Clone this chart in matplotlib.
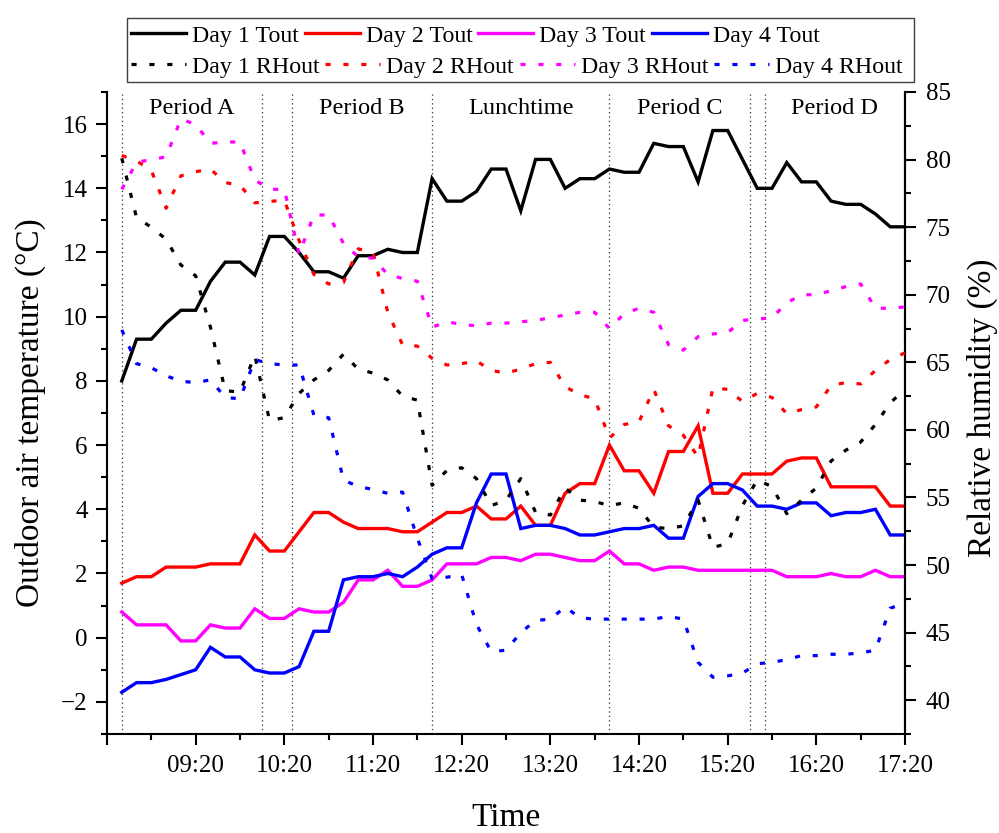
import matplotlib
matplotlib.use("Agg")
import matplotlib.pyplot as plt
from matplotlib.ticker import FixedLocator, FuncFormatter, MultipleLocator
from matplotlib.patches import Rectangle
from matplotlib.lines import Line2D

plt.rcParams['font.family'] = ['Liberation Serif', 'DejaVu Serif']

# logging times, every 10 min
times = ["08:30", "08:40", "08:50", "09:00", "09:10", "09:20", "09:30", "09:40", "09:50",
         "10:00", "10:10", "10:20", "10:30", "10:40", "10:50", "11:00", "11:10", "11:20",
         "11:30", "11:40", "11:50", "12:00", "12:10", "12:20", "12:30", "12:40", "12:50",
         "13:00", "13:10", "13:20", "13:30", "13:40", "13:50", "14:00", "14:10", "14:20",
         "14:30", "14:40", "14:50", "15:00", "15:10", "15:20", "15:30", "15:40", "15:50",
         "16:00", "16:10", "16:20", "16:30", "16:40", "16:50", "17:00", "17:10", "17:20"]

# outdoor temperature (degC)
t_day1 = [8.0, 9.3, 9.3, 9.8, 10.2, 10.2, 11.1, 11.7, 11.7, 11.3,
          12.5, 12.5, 12.0, 11.4, 11.4, 11.2, 11.9, 11.9, 12.1, 12.0,
          12.0, 14.3, 13.6, 13.6, 13.9, 14.6, 14.6, 13.3, 14.9, 14.9,
          14.0, 14.3, 14.3, 14.6, 14.5, 14.5, 15.4, 15.3, 15.3, 14.2,
          15.8, 15.8, 14.9, 14.0, 14.0, 14.8, 14.2, 14.2, 13.6, 13.5,
          13.5, 13.2, 12.8, 12.8]
t_day2 = [1.7, 1.9, 1.9, 2.2, 2.2, 2.2, 2.3, 2.3, 2.3, 3.2,
          2.7, 2.7, 3.3, 3.9, 3.9, 3.6, 3.4, 3.4, 3.4, 3.3,
          3.3, 3.6, 3.9, 3.9, 4.1, 3.7, 3.7, 4.1, 3.5, 3.5,
          4.5, 4.8, 4.8, 6.0, 5.2, 5.2, 4.5, 5.8, 5.8, 6.6,
          4.5, 4.5, 5.1, 5.1, 5.1, 5.5, 5.6, 5.6, 4.7, 4.7,
          4.7, 4.7, 4.1, 4.1]
t_day3 = [0.8, 0.4, 0.4, 0.4, -0.1, -0.1, 0.4, 0.3, 0.3, 0.9,
          0.6, 0.6, 0.9, 0.8, 0.8, 1.1, 1.8, 1.8, 2.1, 1.6,
          1.6, 1.8, 2.3, 2.3, 2.3, 2.5, 2.5, 2.4, 2.6, 2.6,
          2.5, 2.4, 2.4, 2.7, 2.3, 2.3, 2.1, 2.2, 2.2, 2.1,
          2.1, 2.1, 2.1, 2.1, 2.1, 1.9, 1.9, 1.9, 2.0, 1.9,
          1.9, 2.1, 1.9, 1.9]
t_day4 = [-1.7, -1.4, -1.4, -1.3, -1.15, -1.0, -0.3, -0.6, -0.6, -1.0,
          -1.1, -1.1, -0.9, 0.2, 0.2, 1.8, 1.9, 1.9, 2.0, 1.9,
          2.2, 2.6, 2.8, 2.8, 4.2, 5.1, 5.1, 3.4, 3.5, 3.5,
          3.4, 3.2, 3.2, 3.3, 3.4, 3.4, 3.5, 3.1, 3.1, 4.4,
          4.8, 4.8, 4.6, 4.1, 4.1, 4.0, 4.2, 4.2, 3.8, 3.9,
          3.9, 4.0, 3.2, 3.2]

# outdoor relative humidity (%)
rh_day1 = [80.1, 75.7, 75.0, 74.1, 72.2, 71.4, 67.6, 62.9, 62.8, 65.5,
           60.7, 60.9, 62.7, 63.7, 64.4, 65.6, 64.5, 64.2, 63.7, 62.5,
           62.2, 55.9, 57.0, 57.2, 56.4, 54.4, 54.8, 56.4, 53.9, 53.7,
           55.7, 54.8, 54.7, 54.4, 54.6, 54.2, 52.8, 52.7, 52.9, 54.8,
           51.3, 51.6, 54.4, 56.3, 55.8, 53.8, 54.8, 55.7, 57.7, 58.5,
           59.1, 60.4, 62.0, 63.0]
rh_day2 = [80.3, 79.9, 79.2, 76.4, 78.8, 79.1, 79.3, 78.3, 78.1, 76.8,
           76.9, 77.0, 74.0, 71.5, 70.8, 70.9, 73.4, 73.1, 68.7, 66.3,
           66.2, 65.3, 64.8, 64.9, 65.1, 64.4, 64.2, 64.5, 64.9, 65.0,
           63.2, 62.6, 62.3, 59.4, 60.4, 60.6, 63.0, 60.3, 59.6, 58.0,
           63.1, 63.0, 62.1, 62.7, 62.4, 61.2, 61.5, 61.7, 63.3, 63.5,
           63.4, 64.4, 65.2, 65.7]
rh_day3 = [77.8, 79.8, 80.0, 80.2, 83.0, 82.6, 81.2, 81.3, 81.3, 78.5,
           77.8, 77.8, 73.0, 75.9, 75.9, 73.8, 72.8, 72.7, 71.5, 71.2,
           71.0, 67.6, 68.0, 67.8, 67.7, 67.9, 67.9, 68.0, 68.1, 68.3,
           68.5, 68.7, 68.7, 67.5, 68.6, 69.0, 68.7, 66.3, 65.9, 66.9,
           67.1, 67.2, 68.1, 68.2, 68.3, 69.4, 70.0, 70.0, 70.3, 70.6,
           70.8, 69.0, 69.0, 69.1]
rh_day4 = [67.4, 64.9, 64.6, 64.0, 63.6, 63.5, 63.7, 62.4, 62.3, 65.2,
           64.9, 64.8, 64.8, 61.1, 60.9, 56.3, 55.8, 55.6, 55.3, 55.4,
           52.0, 49.0, 49.1, 49.3, 45.6, 43.6, 43.7, 45.0, 45.9, 46.0,
           46.9, 46.1, 46.0, 46.0, 46.0, 46.0, 46.0, 46.2, 46.0, 42.8,
           41.7, 41.8, 42.0, 42.7, 42.8, 43.0, 43.3, 43.3, 43.4, 43.4,
           43.5, 43.7, 46.8, 47.2]

period_edges = ["08:30", "10:05", "10:25", "12:00", "14:00", "15:35", "15:45"]
periods = [("Period A", "08:30", "10:05"), ("Period B", "10:25", "12:00"),
           ("Lunchtime", "12:00", "14:00"), ("Period C", "14:00", "15:35"),
           ("Period D", "15:45", "17:20")]

colors = ["#000000", "#ff0000", "#ff00ff", "#0000ff"]
days = ["Day 1", "Day 2", "Day 3", "Day 4"]


def to_min(s):
    h, m = s.split(":")
    return int(h) * 60 + int(m)


x = [to_min(t) for t in times]
dotted = (0, (1.6, 4.0))

fig = plt.figure(figsize=(9.99, 8.33), dpi=100)
ax = fig.add_axes([107 / 999, 1 - 734 / 833, 798 / 999, 642 / 833])
ax2 = ax.twinx()

for xe in period_edges:
    ax.axvline(to_min(xe), color="#333333", lw=0.9, ls=(0, (1, 2.5)), zorder=1)

for name, a, b in periods:
    ax.text((to_min(a) + to_min(b)) / 2, 0.975, name, transform=ax.get_xaxis_transform(),
            ha="center", va="center", fontsize=17.5)

for y, c in zip([t_day1, t_day2, t_day3, t_day4], colors):
    ax.plot(x, y, color=c, lw=2.4, solid_joinstyle="miter", zorder=3)
for y, c in zip([rh_day1, rh_day2, rh_day3, rh_day4], colors):
    ax2.plot(x, y, color=c, lw=2.3, ls=dotted, zorder=3)

ax.set_xlim(500, 1040)
ax.set_ylim(-3, 17)
ax2.set_ylim(37.5, 85)

ax.xaxis.set_major_locator(FixedLocator(list(range(500, 1041, 60))))
ax.xaxis.set_minor_locator(FixedLocator(list(range(530, 1040, 60))))
ax.xaxis.set_major_formatter(FuncFormatter(
    lambda v, p: "" if v <= 500 else "%02d:%02d" % (int(v) // 60, int(v) % 60)))
ax.yaxis.set_major_locator(MultipleLocator(2))
ax.yaxis.set_minor_locator(MultipleLocator(1))
ax2.yaxis.set_major_locator(MultipleLocator(5))
ax2.yaxis.set_minor_locator(MultipleLocator(2.5))

for a in (ax, ax2):
    a.spines["top"].set_visible(False)
    for s in a.spines.values():
        s.set_linewidth(1.5)
ax2.spines["left"].set_visible(False)
ax2.spines["bottom"].set_visible(False)

ax.tick_params(axis="both", which="major", direction="out", length=8, width=1.5,
               labelsize=18, pad=6)
ax.tick_params(axis="both", which="minor", direction="out", length=4.5, width=1.5)
ax.tick_params(axis="x", which="major", pad=7)
ax2.tick_params(axis="y", which="major", direction="out", length=8, width=1.5,
                labelsize=18, pad=7)
ax2.tick_params(axis="y", which="minor", direction="out", length=4.5, width=1.5)

fig.text(30 / 999, 1 - 413 / 833, "Outdoor air temperature (°C)", rotation=90,
         ha="center", va="center", fontsize=24)
fig.text(982 / 999, 1 - 408 / 833, "Relative humidity (%)", rotation=90,
         ha="center", va="center", fontsize=24)
fig.text(506 / 999, 1 - 826 / 833, "Time", ha="center", va="baseline", fontsize=24)

# legend: temperature row on top, humidity row below, one shared frame
leg_kw = dict(ncol=4, frameon=False, fontsize=17.2, handlelength=2.3, handletextpad=0.25,
              columnspacing=0.25, borderpad=0, borderaxespad=0, loc="center left")
h_t = [Line2D([], [], color=c, lw=2.4) for c in colors]
h_rh = [Line2D([], [], color=c, lw=2.3, ls=dotted) for c in colors]
fig.legend(h_t, [d + " Tout" for d in days], bbox_to_anchor=(131 / 999, 1 - 36 / 833), **leg_kw)
fig.legend(h_rh, [d + " RHout" for d in days], bbox_to_anchor=(131 / 999, 1 - 67 / 833), **leg_kw)
fig.add_artist(Rectangle((127 / 999, 1 - 82 / 833), (914 - 127) / 999, 64 / 833,
                         transform=fig.transFigure, fill=False, lw=1.0, ec="#404040"))

fig.savefig("out.png", dpi=100)
